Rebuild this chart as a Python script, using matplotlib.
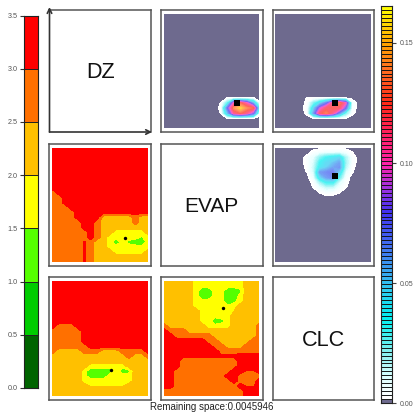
import numpy as np
import matplotlib
matplotlib.use("Agg")
import matplotlib.pyplot as plt
from matplotlib.colors import LinearSegmentedColormap, to_hex, to_rgb

W, H = 414, 412
plt.rcParams['font.family'] = ['Liberation Sans', 'DejaVu Sans']

# discrete legend (left bar)
LEVEL_EDGES = [0.0, 0.5, 1.0, 1.5, 2.0, 2.5, 3.0, 3.5]
LEVEL_COLORS = ['#006400', '#00cc00', '#55ff00', '#ffff00', '#ffc000', '#ff7000', '#ff0000']
LEFT_TICKS = [0.0, 0.5, 1.0, 1.5, 2.0, 2.5, 3.0, 3.5]

# continuous legend (right bar)
HOT_MAX = 0.1654
HOT_CELLS = 100
HOT_ANCHOR_VALUES = [0.002, 0.010, 0.022, 0.035, 0.048, 0.065, 0.080, 0.090, 0.100, 0.115, 0.125, 0.140, 0.150, 0.1654]
HOT_ANCHOR_COLORS = ['#ffffff', '#e0ffff', '#80f0f0', '#00f0f0', '#30c8f0', '#4070f0', '#4030f0', '#a030e0',
                     '#ff20a8', '#ff2050', '#ff2818', '#ff7020', '#ffa000', '#ffff00']
HOT_ZERO_COLOR = '#6e6a8e'
RIGHT_TICKS = [0.00, 0.05, 0.10, 0.15]

# top row and right-column panels: values in 0.001 units, non-zero block only
DZ_CLC_ROW0, DZ_CLC_COL0 = 17, 8
DZ_CLC = [
    [0, 0, 2, 2, 2, 2, 2, 0],
    [0, 2, 30, 100, 125, 100, 55, 3],
    [0, 3, 75, 135, 155, 135, 125, 30],
    [0, 2, 50, 110, 125, 110, 80, 5],
    [0, 0, 2, 2, 2, 2, 2, 0],
]
EVAP_CLC_ROW0, EVAP_CLC_COL0 = 17, 4
DZ_EVAP_HOT = [
    [0, 2, 2, 2, 2, 2, 2, 2, 0, 0],
    [0, 3, 25, 45, 70, 112, 132, 100, 8, 0],
    [0, 4, 45, 90, 118, 124, 118, 75, 5, 0],
    [0, 3, 60, 118, 132, 108, 65, 25, 3, 0],
    [0, 0, 2, 2, 2, 2, 2, 2, 0, 0],
]
TOP_ROW0, TOP_COL0 = 1, 4
EVAP_TOP = [
    [0, 0, 4, 6, 8, 8, 8, 6, 2, 0],
    [0, 4, 10, 25, 35, 40, 45, 20, 5, 0],
    [0, 4, 12, 35, 45, 50, 60, 22, 5, 0],
    [0, 3, 15, 40, 48, 60, 65, 18, 3, 0],
    [0, 2, 12, 62, 68, 72, 45, 10, 2, 0],
    [0, 0, 8, 45, 62, 68, 30, 5, 0, 0],
    [0, 0, 3, 20, 35, 35, 12, 3, 0, 0],
    [0, 0, 2, 8, 15, 15, 6, 2, 0, 0],
    [0, 0, 0, 2, 5, 4, 2, 0, 0, 0],
]

# class codes (0 = lowest legend class ... 6 = highest)
R6 = [6] * 16
MID_LEFT = [
    R6, R6, R6, R6, R6, R6, R6, R6, R6,
    [5, 6, 6, 6, 6, 6, 6, 6, 6, 6, 6, 6, 6, 6, 6, 6],
    [5, 5, 6, 6, 6, 6, 6, 6, 6, 6, 6, 6, 6, 6, 6, 6],
    [5, 5, 6, 6, 6, 6, 6, 6, 6, 6, 6, 6, 6, 6, 6, 6],
    [5, 5, 5, 6, 6, 6, 6, 6, 6, 6, 6, 6, 6, 6, 6, 6],
    [5, 5, 5, 5, 6, 6, 6, 6, 6, 6, 6, 6, 6, 6, 6, 6],
    [5, 5, 5, 5, 6, 6, 6, 6, 4, 4, 4, 4, 4, 5, 4, 4],
    [5, 5, 5, 5, 5, 6, 6, 5, 4, 4, 4, 4, 4, 5, 4, 4],
    [5, 5, 5, 5, 5, 6, 6, 5, 4, 4, 4, 4, 4, 4, 4, 4],
    [5, 5, 5, 5, 5, 5, 6, 5, 4, 4, 3, 3, 3, 3, 3, 4],
    [5, 5, 5, 5, 5, 5, 6, 5, 4, 3, 3, 3, 3, 3, 2.4, 3],
    [5, 5, 5, 5, 5, 5.6, 5, 4, 4, 3, 1.6, 3, 2.2, 1.8, 1.6, 3],
    [5, 5, 5, 5, 5, 5.6, 5, 4, 4, 3, 3, 3, 3, 3, 3, 3],
    [5, 5, 5, 5, 5, 5.6, 5, 4, 4, 4, 3, 3, 3, 3, 3, 4],
    [5, 5, 5, 5, 5, 5.6, 5, 4, 4, 4, 4, 4, 4, 4, 4, 4],
    [5, 5, 5, 5, 5, 5.6, 5, 4, 4, 4, 4, 4, 4, 4, 4, 4],
]
A4 = [4] * 16
BOTTOM_LEFT = [
    R6, R6, R6, R6, R6, R6, R6, R6, R6,
    [6, 5, 5, 5, 6, 6, 6, 6, 6, 6, 6, 6, 6, 6, 6, 6],
    [5, 5, 5, 5, 5, 6, 6, 6, 6, 6, 6, 6, 6, 6, 6, 6],
    [5, 5, 5, 5, 5, 6, 6, 6, 6, 6, 6, 6, 6, 6, 6, 6],
    [5, 5, 5, 5, 5, 6, 6, 6, 6, 6, 6, 6, 6, 6, 6, 6],
    [5, 5, 5, 5, 5, 5, 6, 6, 6, 6, 6, 6, 6, 6, 6, 6],
    [5, 4, 4, 4, 4, 5, 5, 5, 4, 4, 4, 5, 5, 5, 5, 6],
    [4, 4, 4, 4, 4, 4, 4, 4, 4, 4, 4, 4, 5, 4, 4, 5],
    A4,
    [4, 4, 4, 4, 4, 4, 3, 3, 3, 3, 3, 3, 4, 4, 4, 4],
    [4, 4, 4, 4, 4, 3, 1.8, 1.8, 1.8, 1.8, 3, 1.8, 2.2, 4, 4, 4],
    [4, 4, 4, 4, 4, 3, 1.8, 1.8, 1.8, 3, 3, 3, 3, 4, 4, 4],
    [4, 4, 4, 4, 4, 3, 3, 3, 3, 3, 3, 3, 3, 4, 4, 4],
    [4, 4, 4, 4, 4, 4, 3.4, 3.4, 3.4, 3.4, 3.4, 3.4, 4, 4, 4, 4],
    A4, A4,
]
BOTTOM_MID = [
    [4, 4, 4, 4, 4, 3, 3, 3, 3, 3, 3, 3, 3, 4, 4, 4],
    [4, 4, 4, 4, 4, 3, 3, 3, 3, 3, 3, 3, 3, 4, 4, 4],
    [4, 4, 4, 4, 4, 3, 1.6, 1.6, 3, 3, 1.6, 1.6, 2.2, 4, 4, 4],
    [4, 4, 4, 4, 4, 3, 1.6, 1.6, 3, 3, 1.6, 1.6, 3, 4, 4, 4],
    [4, 4, 4, 4, 4, 3, 3, 3, 3, 3, 1.8, 2.2, 3, 4, 4, 4],
    [4, 4, 4, 4, 4, 3, 3, 3, 3, 3, 2.6, 3, 4, 4, 4, 4],
    [4, 4, 4, 4, 4, 4, 3, 3, 3, 3, 3, 3.5, 4, 4, 4, 4],
    [4, 4, 4, 4, 4, 4, 3, 3, 3, 3, 3, 4, 4, 4, 4, 4],
    [4, 4, 4, 4, 4, 4, 3, 3, 1.6, 2, 3, 4, 4, 4, 4, 4],
    [5, 4, 4, 4, 4, 4, 4, 3, 3, 3, 3, 4, 4, 4, 4, 5],
    [6, 5, 5, 5, 4, 4, 4, 4, 4, 4, 4, 4, 4, 4, 4, 5],
    [6, 6, 5, 5, 5, 5, 5, 5, 4, 4, 4, 4, 4, 4, 4, 5],
    [6, 6, 6, 6, 6, 6, 6, 5, 5, 4, 4, 4, 4, 4, 5, 5],
    [6, 6, 6, 6, 6, 6, 6, 6, 5, 5, 4, 4, 4, 5, 5, 5],
    [6, 6, 6, 6, 6, 6, 6, 6, 6, 5, 5, 5, 5, 5, 5, 5],
    [6, 6, 6, 5.7, 5.7, 5.7, 5.7, 5.7, 5.7, 5.7, 5.7, 5.7, 6, 6, 6, 6],
    [6, 6, 6, 5, 5, 5, 5, 5, 5, 5, 5, 5, 6, 6, 6, 6],
    [6, 6, 6, 5, 5, 5, 5, 5, 5, 5, 5, 5, 6, 6, 6, 6],
    [6, 6, 5, 5, 5, 5, 5, 5, 5, 5, 5, 6, 6, 5.4, 5.4, 6],
    [6, 6, 5, 5, 5, 5, 5, 5, 5, 5, 6, 6, 5, 5, 5, 5],
    [6, 6, 5, 5, 5, 5, 5, 5, 5, 5, 5, 6, 5, 5, 5, 6],
    [6, 6, 5, 5, 5, 5, 5, 5, 5, 5, 5, 5, 6, 5.4, 5.4, 6],
    [5, 5, 5, 5, 5, 5, 5, 5, 5, 5, 5, 5, 5, 6, 6, 6],
    [5, 5, 5, 5, 5, 5, 5, 5, 5, 5, 5, 5, 5, 6, 6, 6],
]

# point markers: (x fraction, y fraction from top of the panel)
PT_DZ_CLC = (0.76, 0.785)
PT_DZ_EVAP_HOT = (0.62, 0.785)
PT_EVAP_TOP = (0.62, 0.245)
PT_MID_LEFT = (0.76, 0.79)
PT_BOTTOM_LEFT = (0.615, 0.77)
PT_BOTTOM_MID = (0.62, 0.235)

LABELS = ['DZ', 'EVAP', 'CLC']
FOOTER = 'Remaining space:0.0045946'

COLS = [(49.5, 151), (161, 262.5), (272.5, 374)]
ROWS = [(9.5, 132), (143.5, 266), (277, 400)]
INSET_X = 3.0
INSET_Y = 4.0
PANEL_LIGHTEN = 0.28

fig = plt.figure(figsize=(W / 100, H / 100), dpi=100, facecolor='white')


def add_px(x0, y0, x1, y1, **kw):
    return fig.add_axes([x0 / W, 1 - y1 / H, (x1 - x0) / W, (y1 - y0) / H], **kw)


def frame(c, r, color='#555555'):
    (x0, x1), (y0, y1) = COLS[c], ROWS[r]
    ax = add_px(x0, y0, x1, y1)
    ax.set_xticks([])
    ax.set_yticks([])
    for s in ax.spines.values():
        s.set_color(color)
        s.set_linewidth(1.1)
    return ax


def inner(c, r):
    frame(c, r)
    (x0, x1), (y0, y1) = COLS[c], ROWS[r]
    ax = add_px(x0 + INSET_X, y0 + INSET_Y, x1 - INSET_X, y1 - INSET_Y)
    ax.set_xlim(0, 1)
    ax.set_ylim(1, 0)
    ax.axis('off')
    return ax


def grid():
    return np.linspace(0, 1, 16), np.linspace(0, 1, 24)


def draw_classes(c, r, codes, pt):
    ax = inner(c, r)
    gx, gy = grid()
    vals = np.array(codes, dtype=float) * 0.5 + 0.25
    ax.contourf(gx, gy, vals, levels=LEVEL_EDGES, colors=LEVEL_COLORS)
    ax.scatter([pt[0]], [pt[1]], s=6, c='black', marker='o', linewidths=0, zorder=5)


hot_edges = np.linspace(0, HOT_MAX, HOT_CELLS + 1)
hot_mids = (hot_edges[:-1] + hot_edges[1:]) / 2
_pos = [(v - HOT_ANCHOR_VALUES[0]) / (HOT_ANCHOR_VALUES[-1] - HOT_ANCHOR_VALUES[0]) for v in HOT_ANCHOR_VALUES]
_cm = LinearSegmentedColormap.from_list('hot', list(zip(_pos, HOT_ANCHOR_COLORS)))
hot_colors = [HOT_ZERO_COLOR] + [
    to_hex(_cm(np.clip((v - HOT_ANCHOR_VALUES[0]) / (HOT_ANCHOR_VALUES[-1] - HOT_ANCHOR_VALUES[0]), 0, 1)))
    for v in hot_mids[1:]]
panel_colors = [hot_colors[0]] + [
    tuple(np.array(to_rgb(col)) * (1 - PANEL_LIGHTEN) + PANEL_LIGHTEN) for col in hot_colors[1:]]


def draw_hot(c, r, block, row0, col0, pt):
    ax = inner(c, r)
    gx, gy = grid()
    vals = np.zeros((gy.size, gx.size))
    b = np.array(block, dtype=float) / 1000.0
    vals[row0:row0 + b.shape[0], col0:col0 + b.shape[1]] = b
    ax.contourf(gx, gy, vals, levels=hot_edges, colors=panel_colors)
    ax.scatter([pt[0]], [pt[1]], s=14, c='black', marker='s', linewidths=0, zorder=5)


# left legend
ax = add_px(24.5, 15.5, 38, 388)
ax.bar([0] * 7, np.diff(LEVEL_EDGES), bottom=LEVEL_EDGES[:-1], width=1, color=LEVEL_COLORS,
       edgecolor='#222222', linewidth=0.7)
ax.set_xlim(-0.5, 0.5)
ax.set_ylim(LEVEL_EDGES[0], LEVEL_EDGES[-1])
ax.set_xticks([])
ax.set_yticks(LEFT_TICKS)
ax.set_yticklabels([f'{t:.1f}' for t in LEFT_TICKS], fontsize=5.2, color='#555555')
ax.tick_params(axis='y', length=3.2, width=0.8, color='#333333', pad=1.5)
for s in ax.spines.values():
    s.set_color('#222222')
    s.set_linewidth(0.8)

# right legend
ax = add_px(381.5, 6, 392.5, 403.2)
ax.bar([0] * HOT_CELLS, np.diff(hot_edges), bottom=hot_edges[:-1], width=1, color=hot_colors,
       edgecolor='#111111', linewidth=0.65)
ax.set_xlim(-0.5, 0.5)
ax.set_ylim(0, HOT_MAX)
ax.set_xticks([])
ax.yaxis.tick_right()
ax.set_yticks(RIGHT_TICKS)
ax.set_yticklabels([f'{t:.2f}' for t in RIGHT_TICKS], fontsize=5.0, color='#555555')
ax.tick_params(axis='y', length=3.2, width=0.8, color='#444444', pad=2)
for s in ax.spines.values():
    s.set_color('#222222')
    s.set_linewidth(0.8)

# diagonal label panels
LABEL_Y = 0.485
ax = frame(0, 0)
ax.spines['left'].set_visible(False)
ax.spines['bottom'].set_visible(False)
ax.annotate('', xy=(0, 1.02), xytext=(0, 0), xycoords='axes fraction',
            arrowprops=dict(arrowstyle='->', color='#333333', lw=1.2, shrinkA=0, shrinkB=0, mutation_scale=8))
ax.annotate('', xy=(1.01, 0), xytext=(0, 0), xycoords='axes fraction',
            arrowprops=dict(arrowstyle='->', color='#333333', lw=1.2, shrinkA=0, shrinkB=0, mutation_scale=8))
ax.text(0.5, LABEL_Y, LABELS[0], transform=ax.transAxes, ha='center', va='center', fontsize=15.6, color='#111111')
ax = frame(1, 1)
ax.text(0.5, LABEL_Y, LABELS[1], transform=ax.transAxes, ha='center', va='center', fontsize=15, color='#111111')
ax = frame(2, 2)
ax.text(0.5, LABEL_Y, LABELS[2], transform=ax.transAxes, ha='center', va='center', fontsize=15.6, color='#111111')

draw_hot(1, 0, DZ_CLC, DZ_CLC_ROW0, DZ_CLC_COL0, PT_DZ_CLC)
draw_hot(2, 0, DZ_EVAP_HOT, EVAP_CLC_ROW0, EVAP_CLC_COL0, PT_DZ_EVAP_HOT)
draw_hot(2, 1, EVAP_TOP, TOP_ROW0, TOP_COL0, PT_EVAP_TOP)
draw_classes(0, 1, MID_LEFT, PT_MID_LEFT)
draw_classes(0, 2, BOTTOM_LEFT, PT_BOTTOM_LEFT)
draw_classes(1, 2, BOTTOM_MID, PT_BOTTOM_MID)

fig.text(212 / W, 1 - 407.5 / H, FOOTER, ha='center', va='center', fontsize=7, color='#222222')

fig.savefig('out.png', dpi=100)
